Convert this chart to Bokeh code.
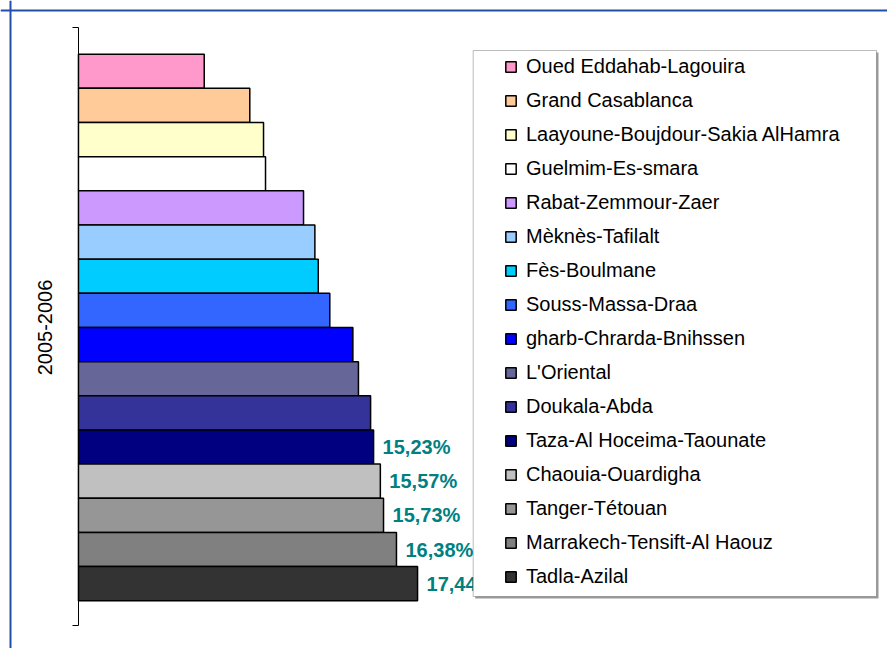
from bokeh.plotting import figure
from bokeh.models import (ColumnDataSource, Range1d, LinearAxis, FixedTicker,
                          Legend, LegendItem, BoxAnnotation, Span)
from bokeh.embed import file_html
from bokeh.resources import INLINE
from bokeh.core.properties import value

# ---------------- data ----------------
category = "2005-2006"
regions = [
    "Oued Eddahab-Lagouira",
    "Grand Casablanca",
    "Laayoune-Boujdour-Sakia AlHamra",
    "Guelmim-Es-smara",
    "Rabat-Zemmour-Zaer",
    "Mèknès-Tafilalt",
    "Fès-Boulmane",
    "Souss-Massa-Draa",
    "gharb-Chrarda-Bnihssen",
    "L'Oriental",
    "Doukala-Abda",
    "Taza-Al Hoceima-Taounate",
    "Chaouia-Ouardigha",
    "Tanger-Tétouan",
    "Marrakech-Tensift-Al Haouz",
    "Tadla-Azilal",
]
rates = [6.72, 9.01, 9.70, 9.80, 11.71, 12.28, 12.45, 13.03,
         14.19, 14.47, 15.08, 15.23, 15.57, 15.73, 16.38, 17.44]
labelled = ["Taza-Al Hoceima-Taounate", "Chaouia-Ouardigha", "Tanger-Tétouan",
            "Marrakech-Tensift-Al Haouz", "Tadla-Azilal"]
colors = ["#FF99CC", "#FFCC99", "#FFFFCC", "#FFFFFF", "#CC99FF", "#99CCFF",
          "#00CCFF", "#3366FF", "#0000FF", "#666699", "#333399", "#000080",
          "#C0C0C0", "#969696", "#808080", "#333333"]
x_axis_min = 0.4

# ---------------- layout helpers (pixels -> data) ----------------
W, H = 887, 648
PX_X = 19.9          # pixels per percentage point
X0 = 70.0            # pixel of value 0
PX_Y = 34.16         # pixels per bar slot
TOP_SLOT = 53.7      # pixel of top edge of first bar
n = len(regions)

def xd(px):
    return (px - X0) / PX_X

def yd(py):
    return (n - 0.5) - (py - TOP_SLOT) / PX_Y

FONT = "Liberation Sans"

p = figure(width=W, height=H, output_backend="svg", toolbar_location=None,
           x_range=Range1d(xd(0), xd(W)), y_range=Range1d(yd(H), yd(0)),
           x_axis_location=None, y_axis_location=None, min_border=0,
           outline_line_color=None, background_fill_color="white",
           border_fill_color="white")
p.xgrid.grid_line_color = None
p.ygrid.grid_line_color = None

pos = [n - 1 - i for i in range(n)]
src = ColumnDataSource(dict(region=regions, rate=rates, pos=pos, color=colors,
                            left=[x_axis_min] * n))
bars = p.hbar(y="pos", left="left", right="rate", height=1.0, source=src,
              fill_color="color", line_color="black", line_width=1.5)

lab_idx = [regions.index(r) for r in labelled]
lab_src = ColumnDataSource(dict(
    rate=[rates[i] for i in lab_idx],
    pos=[pos[i] for i in lab_idx],
    text=[("%.2f" % rates[i]).replace(".", ",") + "%" for i in lab_idx],
))
p.text(x="rate", y="pos", text="text", source=lab_src, x_offset=9,
       text_align="left", text_baseline="middle", text_font=value(FONT),
       text_font_size="20px", text_font_style="bold", text_color="#008080")

# category axis: one category, label at the centre, ticks at the band edges
band_lo, band_hi = yd(625.0), yd(27.3)
center = (n - 1) / 2.0
axis = LinearAxis(fixed_location=x_axis_min, bounds=(band_lo, band_hi),
                  ticker=FixedTicker(ticks=[center], minor_ticks=[band_lo, band_hi]),
                  major_label_overrides={center: category},
                  major_label_orientation="vertical",
                  major_label_text_font=FONT, major_label_text_font_size="20px",
                  major_label_text_color="black", major_label_standoff=20,
                  major_tick_out=0, major_tick_in=0,
                  minor_tick_out=6, minor_tick_in=0,
                  axis_line_color="black", minor_tick_line_color="black")
p.add_layout(axis, "left")

# outer frame (left and top edges visible)
p.add_layout(Span(location=xd(10), dimension="height", line_color="#2050A8", line_width=2))
p.add_layout(Span(location=yd(10), dimension="width", line_color="#2050A8", line_width=2))

# legend box
p.add_layout(BoxAnnotation(left=xd(474.7), right=xd(878), top=yd(52), bottom=yd(598),
                           fill_color="#9a9a9a", fill_alpha=1, line_color=None))
p.add_layout(BoxAnnotation(left=xd(472.7), right=xd(876), top=yd(50), bottom=yd(596),
                           fill_color="white", fill_alpha=1, line_color="#222222",
                           line_width=1))

legend = Legend(items=[LegendItem(label=value(regions[i]), renderers=[bars], index=i)
                       for i in range(n)],
                location=(504, 60), orientation="vertical",
                glyph_width=13, glyph_height=13, label_standoff=9,
                label_height=24, spacing=10, padding=0, margin=0,
                border_line_color=None, background_fill_alpha=0,
                label_text_font=FONT, label_text_font_size="20px",
                label_text_color="black")
p.add_layout(legend)

open("out.html", "w").write(file_html(p, INLINE))
